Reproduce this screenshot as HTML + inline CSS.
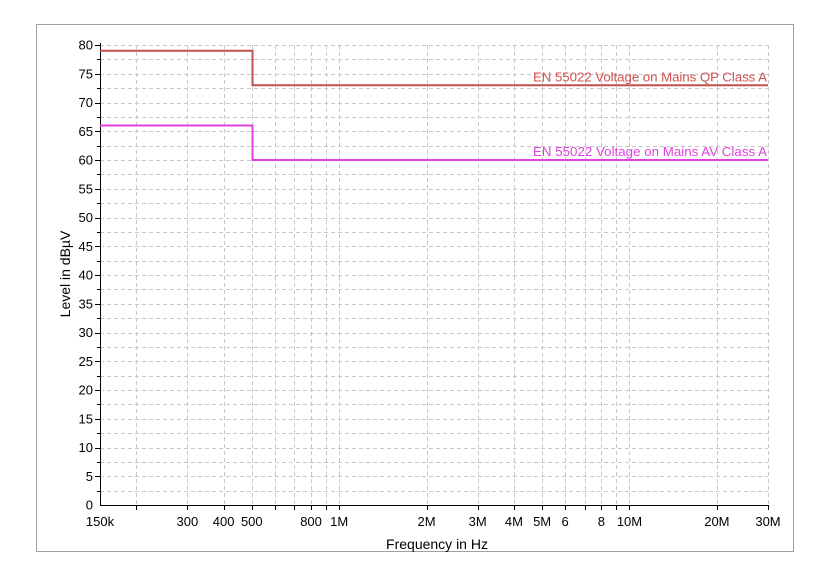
<!DOCTYPE html>
<html><head><meta charset="utf-8"><style>
html,body{margin:0;padding:0;background:#fff;width:831px;height:579px;overflow:hidden}
svg{display:block;font-family:"Liberation Sans",Arial,sans-serif}
</style></head><body>
<svg id="s" width="831" height="579" xmlns="http://www.w3.org/2000/svg"></svg>
<script>
const s=document.getElementById('s');
const X0=100,X1=768,Y0=505,Y80=45;
const lx=f=>X0+(X1-X0)*Math.log10(f/150e3)/Math.log10(200);
const ly=v=>Y0-(Y0-Y80)*v/80;
let h='';
h+=`<rect x="36.5" y="24.5" width="757" height="527" fill="#fff" stroke="#a0a0a0"/>`;
for(let v=2.5;v<=80.01;v+=2.5){const y=Math.round(ly(v))+0.5;h+=`<line x1="${X0}" x2="${X1}" y1="${y}" y2="${y}" stroke="#c8c8c8" stroke-dasharray="4,3"/>`;
 h+=`<line x1="${v%5==0?95:97}" x2="${X0}" y1="${y}" y2="${y}" stroke="#000"/>`;}
const fs=[200e3,300e3,400e3,500e3,600e3,700e3,800e3,900e3,1e6,2e6,3e6,4e6,5e6,6e6,7e6,8e6,9e6,10e6,20e6,30e6];
for(const f of fs){const x=Math.round(lx(f))+0.5;h+=`<line x1="${x}" x2="${x}" y1="${Y80}" y2="${Y0}" stroke="#c8c8c8" stroke-dasharray="4,3"/><line x1="${x}" x2="${x}" y1="${Y0}" y2="${Y0+5}" stroke="#000"/>`;}
h+=`<line x1="${X0+0.5}" x2="${X0+0.5}" y1="${Y80-2}" y2="${Y0}" stroke="#000"/><line x1="${X0}" x2="${X1}" y1="${Y0+0.5}" y2="${Y0+0.5}" stroke="#000"/>`;
for(let v=0;v<=80;v+=5)h+=`<text x="93" y="${ly(v)+4.5}" font-size="13" text-anchor="end">${v}</text>`;
const labs=[[150e3,'150k'],[300e3,'300'],[400e3,'400'],[500e3,'500'],[800e3,'800'],[1e6,'1M'],[2e6,'2M'],[3e6,'3M'],[4e6,'4M'],[5e6,'5M'],[6e6,'6'],[8e6,'8'],[10e6,'10M'],[20e6,'20M'],[30e6,'30M']];
for(const [f,t] of labs)h+=`<text x="${lx(f)}" y="526" font-size="13" text-anchor="middle">${t}</text>`;
h+=`<text x="437" y="549" font-size="14" text-anchor="middle">Frequency in Hz</text>`;
h+=`<text transform="translate(70,274) rotate(-90)" font-size="14" text-anchor="middle">Level in dBµV</text>`;
const x5=Math.round(lx(500e3))+0.5;
h+=`<polyline fill="none" stroke="#c05050" stroke-width="2" points="${X0},${ly(79)} ${x5},${ly(79)} ${x5},${ly(73)} ${X1},${ly(73)}"/>`;
h+=`<polyline fill="none" stroke="#e040e0" stroke-width="2" points="${X0},${ly(66)} ${x5},${ly(66)} ${x5},${ly(60)} ${X1},${ly(60)}"/>`;
h+=`<text x="767" y="${ly(73)-4}" font-size="13.3" fill="#d05050" text-anchor="end" textLength="234">EN 55022 Voltage on Mains QP Class A</text>`;
h+=`<text x="767" y="${ly(60)-4}" font-size="13.3" fill="#e040e0" text-anchor="end" textLength="234">EN 55022 Voltage on Mains AV Class A</text>`;
s.innerHTML=h;
</script>
</body></html>
